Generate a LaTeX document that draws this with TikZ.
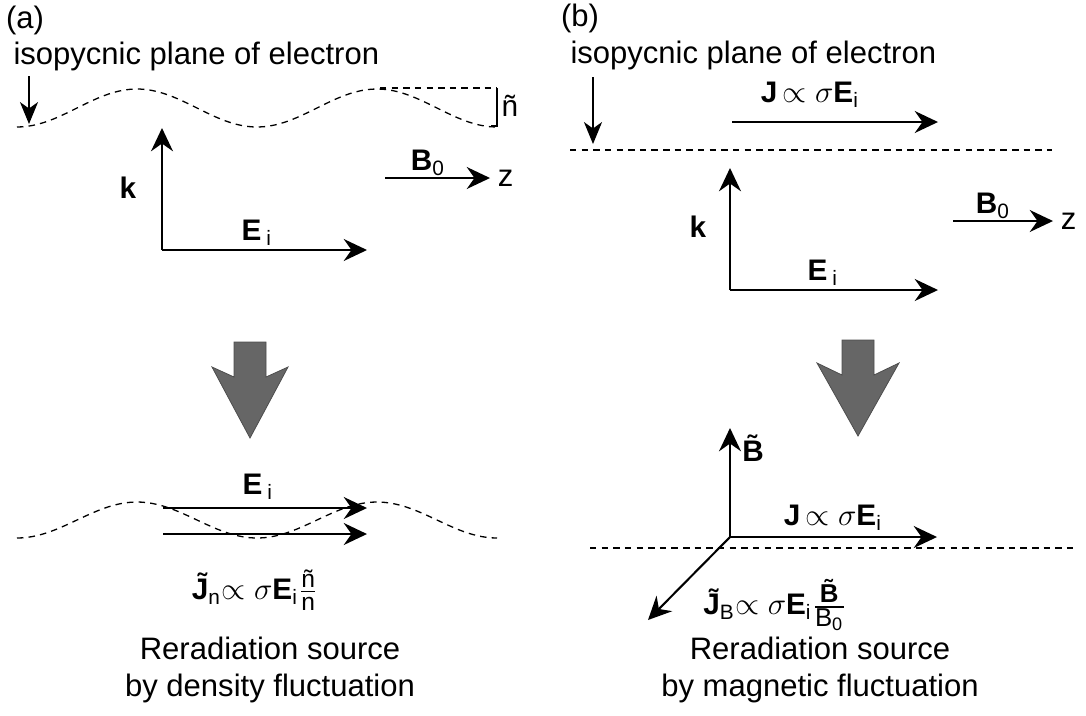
\documentclass[tikz,border=0pt]{standalone}
\usepackage{amsmath}
\usepackage{fontspec}
\setmainfont{Liberation Sans}
\usetikzlibrary{positioning,arrows.meta}

\begin{document}
\begin{tikzpicture}[
  x=0.0136cm, y=-0.0136cm,
  txt/.style={font=\fontsize{12}{14}\selectfont, inner sep=0pt},
  lbl/.style={font=\fontsize{11.5}{14}\selectfont, inner sep=0pt},
  vec/.style={-{Stealth[length=9pt,width=8.5pt,inset=3pt]}, line width=0.8pt},
  thinvec/.style={-{Stealth[length=8.5pt,width=7pt,inset=2.5pt]}, line width=0.45pt},
  plane/.style={dash pattern=on 2.5pt off 2pt, line width=0.5pt},
  fatarrow/.style={fill=black!60, draw=black!70, line width=0.3pt}
]
\useasboundingbox (0,0) rectangle (1086,715);

% (a) density fluctuation
\node[txt] (labela) at (25,20) {(a)};
\node[txt, anchor=base west] (planea) at (13,64) {isopycnic plane of electron};
\coordinate (pointa) at (29,76);
\coordinate (wavea) at (29,124);
\draw[thinvec] (pointa) -- (wavea);
\draw[plane] plot[domain=17:495, samples=90] (\x, {108+19*cos(1.5*(\x-17))});
\draw[plane] (380,88) -- (497,88);
\draw[line width=0.5pt] (497,88) -- (497,126) -- (491,126);
\node[lbl] (ntilde) at (510,106) {ñ};

\coordinate (aorigin) at (162,250);
\coordinate (aktip) at (162,128);
\coordinate (aetip) at (367,250);
\draw[vec] (aorigin) -- (aktip);
\draw[vec] (aorigin) -- (aetip);
\node[lbl] (ka) at (128,188) {\textbf{k}};
\node[lbl] (eia) at (257,233) {\textbf{E}\,\textsubscript{i}};

\coordinate (abstart) at (385,178);
\coordinate (abtip) at (490,178);
\draw[vec, line width=0.6pt] (abstart) -- (abtip);
\node[lbl] (b0a) at (428,163) {\textbf{B}\textsubscript{0}};
\node[txt, right=0.1cm of abtip] (za) {z};

\path[fatarrow, shift={(250,0)}] (-16,342) -- (16,342) -- (16,377) -- (38,367) .. controls (22,397) .. (0,438) .. controls (-22,397) .. (-38,367) -- (-16,377) -- cycle;

\draw[plane] plot[domain=17:497, samples=90] (\x, {520+18*cos(1.5*(\x-17))});
\coordinate (aupstart) at (163,508);
\coordinate (auptip) at (367,508);
\coordinate (alostart) at (163,534);
\coordinate (alotip) at (367,534);
\draw[vec] (aupstart) -- (auptip);
\draw[vec] (alostart) -- (alotip);
\node[lbl] (eia2) at (258,487) {\textbf{E}\,\textsubscript{i}};
\node[lbl] (jna) at (255,590) {\textbf{\~{J}}\textsubscript{n}$\propto\sigma$\textbf{E}\textsubscript{i}$\genfrac{}{}{0.4pt}{1}{\text{\fontsize{9.5}{10}\selectfont ñ}}{\text{\fontsize{9.5}{10}\selectfont n}}$};
\node[txt, align=center] (sourcea) at (270,670) {Reradiation source\\by density fluctuation};

% (b) magnetic fluctuation
\node[txt] (labelb) at (580,18) {(b)};
\node[txt, anchor=base west] (planeb) at (570,63) {isopycnic plane of electron};
\coordinate (pointb) at (593,77);
\coordinate (waveb) at (593,144);
\draw[thinvec] (pointb) -- (waveb);
\coordinate (bjstart) at (732,122);
\coordinate (bjtip) at (938,122);
\draw[vec, line width=0.7pt] (bjstart) -- (bjtip);
\node[lbl] (jb) at (810,95) {\textbf{J}\,$\propto\sigma$\textbf{E}\textsubscript{i}};
\draw[plane] (570,150) -- (1052,150);

\coordinate (borigin) at (730,290);
\coordinate (bktip) at (730,168);
\coordinate (betip) at (938,290);
\draw[vec] (borigin) -- (bktip);
\draw[vec] (borigin) -- (betip);
\node[lbl] (kb) at (698,227) {\textbf{k}};
\node[lbl] (eib) at (823,273) {\textbf{E}\,\textsubscript{i}};

\coordinate (bbstart) at (953,221);
\coordinate (bbtip) at (1053,221);
\draw[vec, line width=0.6pt] (bbstart) -- (bbtip);
\node[lbl] (b0b) at (993,206) {\textbf{B}\textsubscript{0}};
\node[txt, right=0.1cm of bbtip] (zb) {z};

\path[fatarrow, shift={(858,-2)}] (-16,342) -- (16,342) -- (16,377) -- (41,365) .. controls (23,397) .. (0,438) .. controls (-23,397) .. (-41,365) -- (-16,377) -- cycle;

\coordinate (bflucorigin) at (730,537);
\coordinate (bbttip) at (730,428);
\coordinate (bjttip) at (937,537);
\coordinate (bjbtip) at (648,620);
\draw[vec] (bflucorigin) -- (bbttip);
\draw[vec] (bflucorigin) -- (bjttip);
\draw[vec] (bflucorigin) -- (bjbtip);
\node[lbl] (btilde) at (753,448) {\textbf{\~{B}}};
\node[lbl] (jb2) at (833,518) {\textbf{J}\,$\propto\sigma$\textbf{E}\textsubscript{i}};
\draw[plane] (590,548) -- (1073,548);
\node[lbl] (jbb) at (775,605) {\textbf{\~{J}}\textsubscript{B}$\propto\sigma$\textbf{E}\textsubscript{i}$\genfrac{}{}{0.4pt}{1}{\text{\fontsize{10}{11}\selectfont\bfseries\~{B}}}{\text{\fontsize{10}{11}\selectfont B\textsubscript{0}}}$};
\node[txt, align=center] (sourceb) at (820,670) {Reradiation source\\by magnetic fluctuation};
\end{tikzpicture}
\end{document}
